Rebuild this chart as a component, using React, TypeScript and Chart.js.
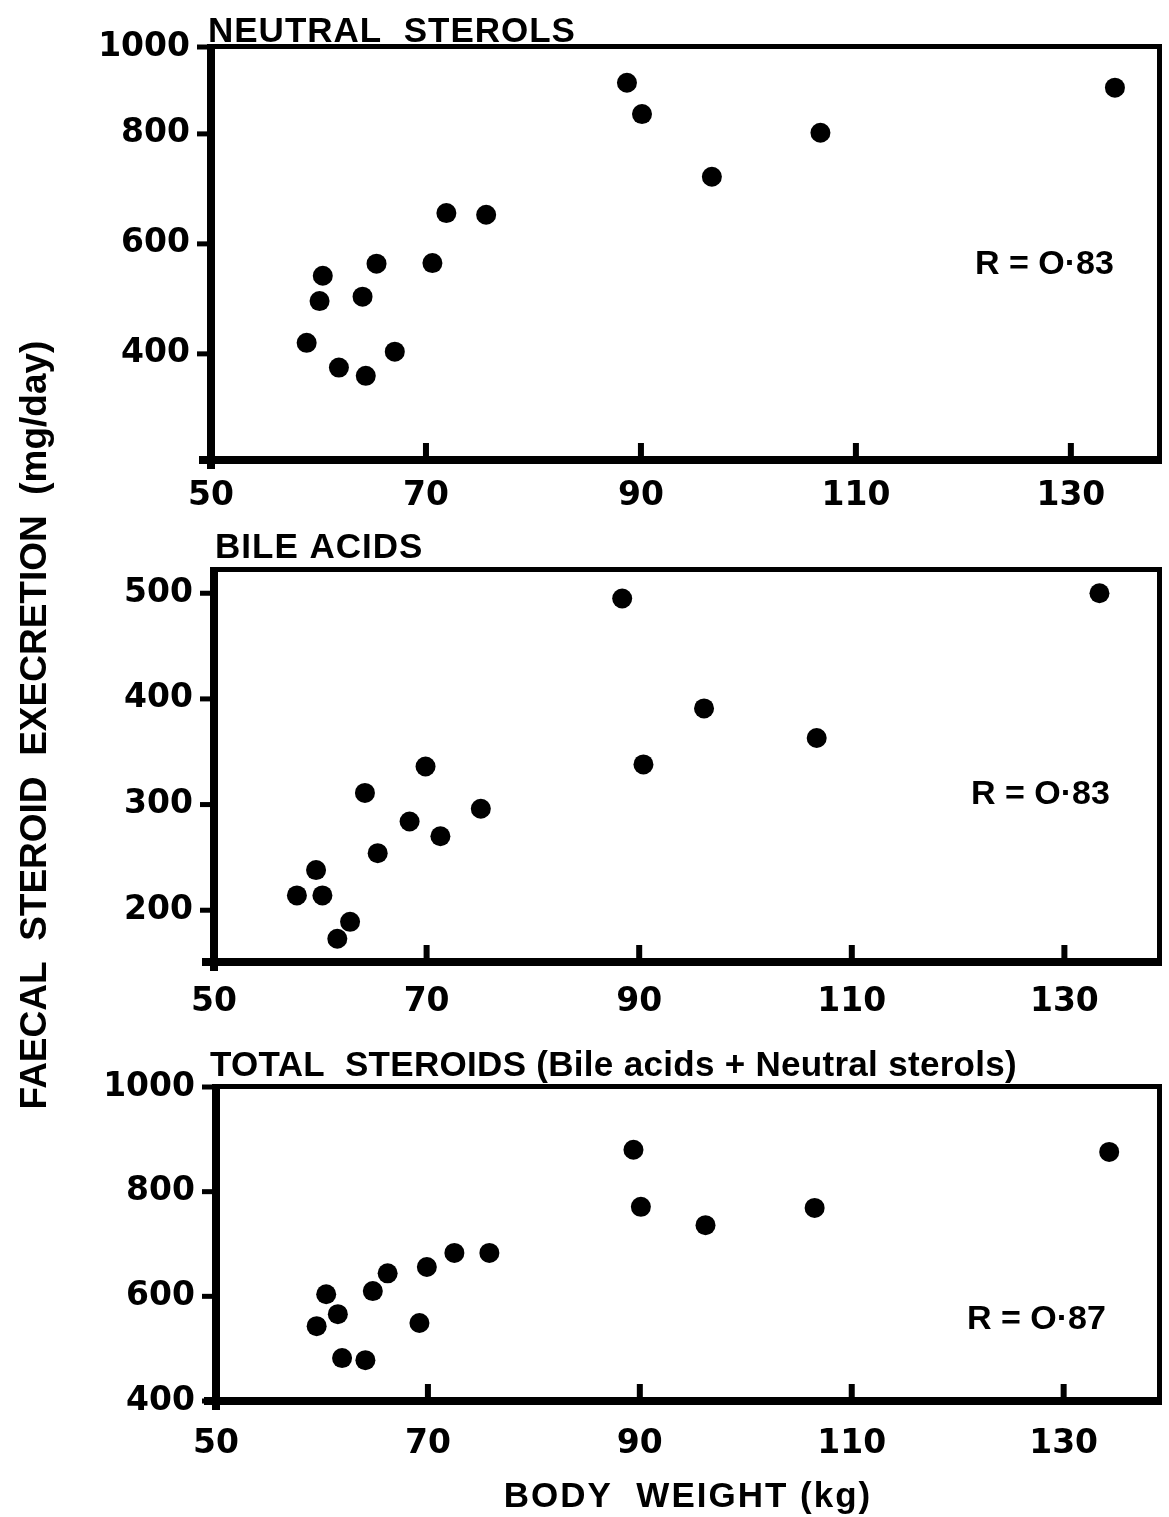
import React, { useEffect, useRef } from 'react';
import { Chart, registerables } from 'chart.js';

Chart.register(...registerables);

// ---------- data ----------
const neutralWeight = [58.9, 60.4, 60.1, 61.9, 64.1, 64.4, 65.4, 67.1, 70.6, 71.9, 75.6, 88.7, 90.1, 96.6, 106.7, 134.1];
const neutralSterols = [420, 542, 496, 375, 504, 360, 564, 404, 565, 656, 653, 893, 836, 722, 802, 884];

const bileWeight = [57.8, 59.6, 60.2, 61.6, 62.8, 64.2, 65.4, 68.4, 69.9, 71.3, 75.1, 88.4, 90.4, 96.1, 106.7, 133.3];
const bileAcids = [214, 238, 214, 173, 189, 311, 254, 284, 336, 270, 296, 495, 338, 391, 363, 500];

const totalWeight = [59.5, 60.4, 61.5, 61.9, 64.1, 64.8, 66.2, 69.2, 69.9, 72.5, 75.8, 89.4, 90.1, 96.2, 106.5, 134.3];
const totalSteroids = [543, 604, 566, 482, 478, 610, 644, 549, 656, 683, 683, 880, 771, 736, 769, 876];

const xTickValues = [50, 70, 90, 110, 130];
const neutralTicks = [400, 600, 800, 1000];
const bileTicks = [200, 300, 400, 500];
const totalTicks = [400, 600, 800, 1000];

const panelTitles = ['NEUTRAL  STEROLS', 'BILE ACIDS', 'TOTAL  STEROIDS (Bile acids + Neutral sterols)'];
const correlationLabels = ['R = O·83', 'R = O·83', 'R = O·87'];
const xAxisTitle = 'BODY  WEIGHT (kg)';
const yAxisTitle = 'FAECAL  STEROID  EXECRETION  (mg/day)';

// ---------- layout ----------
const W = 1169;
const H = 1517;
const X_AXIS_H = 70;

type PanelCfg = {
  xs: number[];
  ys: number[];
  yTicks: number[];
  title: string;
  rLabel: string;
  left: number; right: number; top: number; bottom: number;
  xMax: number; yMin: number; yMax: number;
  titleX: number; titleBase: number; titleSpacing: number;
  rX: number; rBase: number;
  xPad: number;
  axisTitles: boolean;
};

const panels: PanelCfg[] = [
  {
    xs: neutralWeight, ys: neutralSterols, yTicks: neutralTicks,
    title: panelTitles[0], rLabel: correlationLabels[0],
    left: 211, right: 1164, top: 47, bottom: 460,
    xMax: 138.2, yMin: 207, yMax: 958,
    titleX: 208, titleBase: 42, titleSpacing: 1,
    rX: 975, rBase: 274, xPad: 9, axisTitles: false,
  },
  {
    xs: bileWeight, ys: bileAcids, yTicks: bileTicks,
    title: panelTitles[1], rLabel: correlationLabels[1],
    left: 214, right: 1164, top: 570, bottom: 962,
    xMax: 138.9, yMin: 151, yMax: 522,
    titleX: 215, titleBase: 558, titleSpacing: 1,
    rX: 971, rBase: 804, xPad: 13, axisTitles: false,
  },
  {
    xs: totalWeight, ys: totalSteroids, yTicks: totalTicks,
    title: panelTitles[2], rLabel: correlationLabels[2],
    left: 216, right: 1163, top: 1087, bottom: 1401,
    xMax: 139.0, yMin: 400, yMax: 1000,
    titleX: 210, titleBase: 1076, titleSpacing: 0.3,
    rX: 967, rBase: 1329, xPad: 16, axisTitles: true,
  },
];

const tickFont = { family: '"DejaVu Sans", sans-serif', weight: 'bold' as const, size: 33 };

function decorPlugin(p: PanelCfg) {
  return {
    id: 'figureDecor',
    afterDraw(chart: any) {
      const { ctx, chartArea: a, scales } = chart;
      const xs = scales.x;
      const ys = scales.y;
      ctx.save();
      ctx.fillStyle = '#000';
      // frame: thick left & bottom, thinner top & right
      ctx.fillRect(a.left - 4, a.top - 3, 8, a.bottom - a.top + 12);
      ctx.fillRect(a.left - 12, a.bottom - 4, a.right - a.left + 15, 8);
      ctx.fillRect(a.left - 4, a.top - 3, a.right - a.left + 6, 5);
      ctx.fillRect(a.right - 2, a.top - 3, 5, a.bottom - a.top + 7);
      // y ticks (outward)
      ys.ticks.forEach((t: any) => {
        const y = ys.getPixelForValue(t.value);
        ctx.fillRect(a.left - 14, y - 2.5, 12, 5);
      });
      // x ticks (inward)
      xs.ticks.forEach((t: any) => {
        if (t.value <= xs.min) return;
        const x = xs.getPixelForValue(t.value);
        ctx.fillRect(x - 3, a.bottom - 17, 6, 15);
      });
      // panel title
      ctx.textAlign = 'left';
      ctx.textBaseline = 'alphabetic';
      ctx.font = 'bold 35px "Liberation Sans", Arial, sans-serif';
      (ctx as any).letterSpacing = p.titleSpacing + 'px';
      ctx.fillText(p.title, p.titleX, p.titleBase);
      // correlation coefficient
      (ctx as any).letterSpacing = '0px';
      ctx.font = 'bold 34px "Liberation Sans", Arial, sans-serif';
      ctx.fillText(p.rLabel, p.rX, p.rBase);
      if (p.axisTitles) {
        ctx.font = 'bold 35px "Liberation Sans", Arial, sans-serif';
        (ctx as any).letterSpacing = '2px';
        ctx.textAlign = 'center';
        ctx.fillText(xAxisTitle, 688, 1507);
        (ctx as any).letterSpacing = '0px';
        ctx.save();
        ctx.translate(36, 725);
        ctx.rotate(-Math.PI / 2);
        ctx.font = 'bold 37px "Liberation Sans", Arial, sans-serif';
        ctx.textAlign = 'center';
        ctx.textBaseline = 'middle';
        ctx.fillText(yAxisTitle, 0, 0);
        ctx.restore();
      }
      ctx.restore();
    },
  };
}

function Panel({ cfg }: { cfg: PanelCfg }) {
  const ref = useRef<HTMLCanvasElement>(null);
  useEffect(() => {
    if (!ref.current) return;
    const chart = new Chart(ref.current, {
      type: 'scatter',
      data: {
        datasets: [
          {
            data: cfg.xs.map((x, i) => ({ x, y: cfg.ys[i] })),
            pointRadius: 10,
            pointBackgroundColor: '#000',
            pointBorderWidth: 0,
            borderWidth: 0,
          },
        ],
      },
      options: {
        animation: false,
        responsive: false,
        devicePixelRatio: 1,
        events: [],
        layout: {
          padding: {
            left: 0,
            top: cfg.top,
            right: W - cfg.right,
            bottom: H - cfg.bottom - X_AXIS_H,
          },
        },
        plugins: { legend: { display: false }, tooltip: { enabled: false }, title: { display: false } },
        scales: {
          x: {
            type: 'linear',
            min: 50,
            max: cfg.xMax,
            grid: { display: false },
            border: { display: false },
            afterBuildTicks: (s: any) => {
              s.ticks = xTickValues.map((v) => ({ value: v }));
            },
            afterFit: (s: any) => {
              s.height = X_AXIS_H;
            },
            ticks: {
              font: tickFont,
              color: '#000',
              padding: cfg.xPad,
              maxRotation: 0,
              autoSkip: false,
              callback: (_v: any, i: number) => String(xTickValues[i]),
            },
          },
          y: {
            type: 'linear',
            min: cfg.yMin,
            max: cfg.yMax,
            grid: { display: false },
            border: { display: false },
            afterBuildTicks: (s: any) => {
              // the figure prints its top label at the frame edge
              s.ticks = cfg.yTicks.map((v) => ({ value: Math.min(v, s.max) }));
            },
            afterFit: (s: any) => {
              s.width = cfg.left;
            },
            ticks: {
              font: tickFont,
              color: '#000',
              padding: 13,
              autoSkip: false,
              callback: (_v: any, i: number) => String(cfg.yTicks[i]),
            },
          },
        },
      },
      plugins: [decorPlugin(cfg)],
    } as any);
    return () => chart.destroy();
  }, [cfg]);
  return (
    <canvas
      ref={ref}
      width={W}
      height={H}
      style={{ position: 'absolute', left: 0, top: 0, width: W, height: H }}
    />
  );
}

export default function App() {
  return (
    <div style={{ position: 'absolute', left: 0, top: 0, width: W, height: H, background: '#fff', overflow: 'hidden' }}>
      {panels.map((p, i) => (
        <Panel key={i} cfg={p} />
      ))}
    </div>
  );
}
